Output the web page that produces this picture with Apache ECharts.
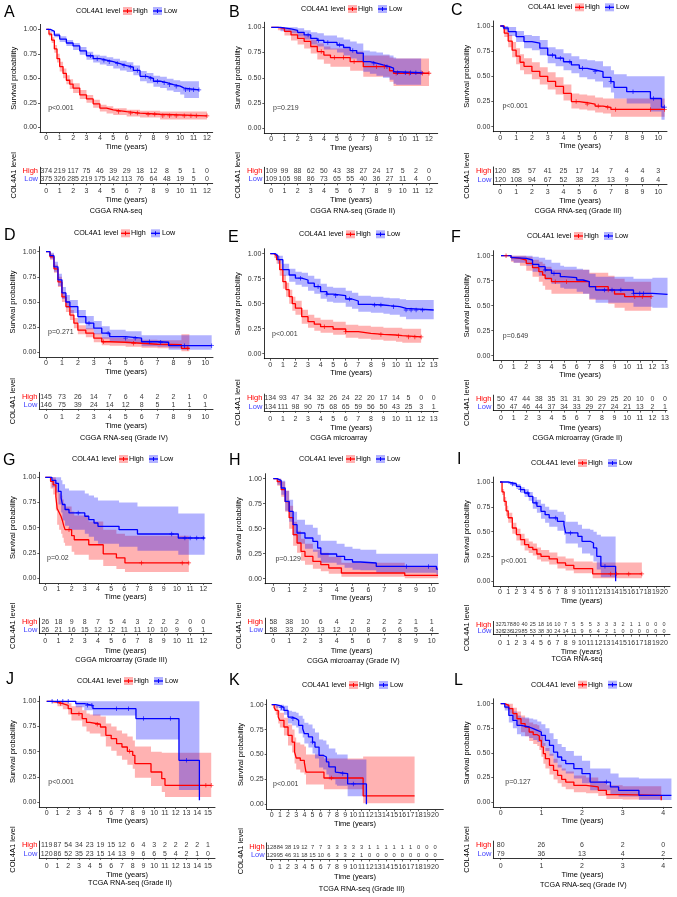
<!DOCTYPE html>
<html><head><meta charset="utf-8">
<script src="https://cdn.jsdelivr.net/npm/echarts@6/dist/echarts.min.js"></script>
<style>html,body{margin:0;padding:0;background:#fff}#c{width:677px;height:897px}</style>
</head><body><div id="c"></div>
<script>
// ---------- DATA ----------
// curves: [time, survival, lowerCI, upperCI] step points
const survTicks = [0, 0.25, 0.5, 0.75, 1];
const ticks4 = [0,1,2,3,4];
const ticks10 = [0,1,2,3,4,5,6,7,8,9,10];
const ticks12 = [0,1,2,3,4,5,6,7,8,9,10,11,12];
const ticks13 = [0,1,2,3,4,5,6,7,8,9,10,11,12,13];
const ticks15 = [0,1,2,3,4,5,6,7,8,9,10,11,12,13,14,15];
const ticks20 = [0,1,2,3,4,5,6,7,8,9,10,11,12,13,14,15,16,17,18,19,20];

const letters = ['A','B','C','D','E','F','G','H','I','J','K','L'];
const captions = ['CGGA RNA-seq','CGGA RNA-seq (Grade II)','CGGA RNA-seq (Grade III)','CGGA RNA-seq (Grade IV)',
  'CGGA microarray','CGGA microarray (Grade II)','CGGA microarray (Grade III)','CGGA microarray (Grade IV)',
  'TCGA RNA-seq','TCGA RNA-seq (Grade II)','TCGA RNA-seq (Grade III)','TCGA RNA-seq (Grade IV)'];
const pvalues = ['p<0.001','p=0.219','p<0.001','p=0.271','p<0.001','p=0.649','p=0.02','p=0.129','p<0.001','p<0.001','p<0.001','p=0.127'];
const groups = ['High','Low'];

const A_high = [[0,1,1,1],[0.2,0.95,0.93,0.97],[0.4,0.89,0.86,0.92],[0.6,0.8,0.76,0.84],[0.8,0.7,0.66,0.75],[1.0,0.62,0.57,0.67],[1.25,0.55,0.5,0.6],[1.5,0.48,0.44,0.53],[1.75,0.44,0.39,0.49],[2.0,0.40,0.35,0.45],[2.5,0.33,0.29,0.38],[3.0,0.29,0.25,0.33],[3.5,0.24,0.2,0.28],[4.0,0.195,0.16,0.23],[4.5,0.177,0.14,0.215],[5.0,0.16,0.125,0.195],[6.0,0.145,0.11,0.18],[7.0,0.133,0.1,0.17],[8.5,0.117,0.08,0.16],[12.0,0.117,0.08,0.16]];
const A_low = [[0,1,1,1],[0.3,0.98,0.97,0.99],[0.6,0.94,0.92,0.96],[1.0,0.9,0.87,0.93],[1.5,0.86,0.83,0.89],[2.0,0.83,0.79,0.86],[2.5,0.78,0.74,0.82],[3.0,0.73,0.69,0.77],[3.5,0.7,0.66,0.74],[4.0,0.685,0.64,0.73],[4.5,0.67,0.625,0.715],[5.0,0.65,0.6,0.7],[5.5,0.63,0.58,0.68],[6.0,0.615,0.565,0.665],[6.5,0.58,0.53,0.63],[7.0,0.52,0.47,0.575],[7.5,0.5,0.45,0.555],[8.0,0.47,0.415,0.525],[8.5,0.455,0.4,0.515],[9.0,0.435,0.375,0.495],[9.5,0.42,0.36,0.48],[10.0,0.4,0.335,0.47],[10.3,0.382,0.30,0.47],[11.4,0.382,0.30,0.47]];
const A_censHigh = [5.4,6.3,6.8,7.6,8.1,8.7,9.2,9.7,10.3,10.8,11.2,12];
const A_censLow = [3.3,3.8,4.3,4.7,5.3,5.8,6.3,6.8,7.4,7.8,8.3,8.8,9.2,9.7,10.4,10.7,11.0,11.4];
const A_riskHigh = [374,219,117,75,46,39,29,18,12,8,5,1,0];
const A_riskLow = [375,326,285,219,175,142,113,76,64,48,19,5,0];

const B_high = [[0,1,1,1],[0.5,0.99,0.97,1],[1.0,0.96,0.92,0.99],[1.5,0.925,0.87,0.97],[2.0,0.89,0.83,0.95],[2.5,0.86,0.79,0.92],[3.0,0.81,0.74,0.88],[3.5,0.76,0.68,0.84],[4.0,0.725,0.64,0.81],[4.5,0.7,0.61,0.79],[6.0,0.66,0.57,0.76],[7.0,0.61,0.51,0.72],[9.0,0.57,0.46,0.7],[9.3,0.545,0.42,0.69],[12.0,0.545,0.42,0.69]];
const B_low = [[0,1,1,1],[0.7,0.985,0.96,1],[1.5,0.97,0.94,1],[2.0,0.95,0.91,0.99],[2.5,0.925,0.88,0.97],[3.0,0.89,0.83,0.95],[3.5,0.87,0.81,0.94],[4.0,0.85,0.78,0.92],[5.0,0.825,0.75,0.9],[5.5,0.8,0.72,0.88],[6.0,0.77,0.69,0.86],[6.5,0.745,0.66,0.84],[7.0,0.66,0.56,0.77],[7.5,0.645,0.54,0.76],[8.0,0.627,0.52,0.75],[8.5,0.61,0.5,0.73],[9.0,0.595,0.48,0.72],[9.3,0.56,0.44,0.7],[9.5,0.55,0.43,0.69],[11.4,0.55,0.43,0.69]];
const B_censHigh = [3.8,4.8,5.5,6.3,8.0,8.6,9.5,10.5,11.5,12];
const B_censLow = [2.8,3.6,4.3,5.2,6.2,7.8,8.8,9.6,10.2,10.6,11.0,11.4];
const B_riskHigh = [109,99,88,62,50,43,38,27,24,17,5,2,0];
const B_riskLow = [109,105,98,86,73,65,55,40,36,27,11,4,0];

const C_high = [[0,1,1,1],[0.25,0.93,0.89,0.97],[0.5,0.85,0.79,0.91],[0.75,0.76,0.69,0.84],[1.0,0.7,0.62,0.78],[1.25,0.64,0.56,0.72],[1.5,0.6,0.52,0.68],[2.0,0.55,0.47,0.64],[2.5,0.5,0.42,0.59],[3.0,0.45,0.37,0.54],[3.5,0.4,0.32,0.49],[4.0,0.33,0.26,0.42],[4.5,0.25,0.18,0.33],[5.0,0.238,0.17,0.32],[5.5,0.225,0.16,0.31],[6.0,0.205,0.14,0.29],[6.5,0.192,0.13,0.28],[7.0,0.172,0.1,0.28],[10.4,0.172,0.1,0.28]];
const C_low = [[0,1,1,1],[0.2,0.98,0.96,1],[0.5,0.945,0.9,0.99],[1.0,0.895,0.84,0.95],[1.5,0.845,0.78,0.91],[2.0,0.83,0.76,0.9],[2.5,0.78,0.71,0.86],[3.0,0.71,0.63,0.79],[3.5,0.68,0.6,0.77],[4.0,0.645,0.56,0.73],[4.5,0.613,0.53,0.7],[5.0,0.58,0.49,0.67],[5.5,0.563,0.47,0.66],[6.0,0.546,0.45,0.65],[6.5,0.49,0.39,0.6],[7.0,0.447,0.34,0.56],[7.2,0.39,0.28,0.52],[8.0,0.348,0.23,0.5],[9.5,0.28,0.15,0.5],[10.2,0.195,0.07,0.5],[10.4,0.195,0.07,0.5]];
const C_censHigh = [4.8,5.5,6.2,6.8,7.3,9.5,10.4];
const C_censLow = [3.3,3.8,4.4,5.2,6.0,7.0,8.4,9.7,10.4];
const C_riskHigh = [120,85,57,41,25,17,14,7,4,4,3];
const C_riskLow = [120,108,94,67,52,38,23,13,9,6,4];

const D_high = [[0,1,1,1],[0.25,0.95,0.92,0.98],[0.5,0.83,0.79,0.87],[0.75,0.7,0.65,0.75],[1.0,0.55,0.5,0.6],[1.25,0.455,0.4,0.51],[1.5,0.37,0.32,0.42],[1.75,0.29,0.24,0.34],[2.0,0.22,0.18,0.27],[2.5,0.19,0.15,0.24],[3.0,0.14,0.1,0.19],[3.5,0.105,0.07,0.15],[4.0,0.1,0.065,0.145],[5.0,0.09,0.055,0.135],[6.0,0.08,0.045,0.125],[7.0,0.075,0.04,0.12],[8.5,0.04,0.01,0.18],[9.0,0.04,0.01,0.18]];
const D_low = [[0,1,1,1],[0.25,0.96,0.93,0.99],[0.5,0.85,0.8,0.9],[0.75,0.72,0.66,0.78],[1.0,0.59,0.53,0.65],[1.25,0.5,0.44,0.57],[1.5,0.455,0.39,0.52],[2.0,0.355,0.29,0.42],[2.5,0.29,0.23,0.36],[3.0,0.24,0.18,0.31],[3.5,0.19,0.135,0.26],[4.0,0.155,0.105,0.225],[5.0,0.14,0.09,0.21],[6.0,0.105,0.06,0.17],[7.0,0.1,0.055,0.17],[7.7,0.066,0.025,0.17],[10.4,0.066,0.025,0.17]];
const D_censHigh = [3.6,5.5,8.9];
const D_censLow = [2.7,3.9,5.0,5.6,6.5,7.2,8.7,10.4];
const D_riskHigh = [145,73,26,14,7,6,4,2,2,1,0];
const D_riskLow = [146,75,39,24,14,12,8,5,1,1,1];

const E_high = [[0,1,1,1],[0.3,0.98,0.96,1],[0.5,0.94,0.9,0.98],[0.75,0.84,0.78,0.9],[1.0,0.72,0.65,0.79],[1.25,0.64,0.57,0.71],[1.5,0.57,0.5,0.64],[1.75,0.5,0.43,0.57],[2.0,0.455,0.39,0.53],[2.5,0.37,0.3,0.44],[3.0,0.32,0.26,0.39],[3.5,0.295,0.23,0.36],[4.0,0.27,0.21,0.34],[5.0,0.247,0.19,0.32],[6.0,0.22,0.16,0.29],[7.0,0.203,0.15,0.28],[8.0,0.193,0.14,0.27],[9.0,0.187,0.13,0.26],[10.0,0.18,0.12,0.26],[10.5,0.168,0.11,0.25],[12.0,0.168,0.11,0.25]];
const E_low = [[0,1,1,1],[0.4,0.98,0.96,1],[0.6,0.94,0.9,0.98],[1.0,0.84,0.78,0.9],[1.5,0.787,0.72,0.85],[2.0,0.755,0.69,0.82],[2.5,0.737,0.67,0.81],[3.0,0.705,0.63,0.78],[3.5,0.67,0.6,0.75],[4.0,0.62,0.55,0.7],[4.5,0.595,0.52,0.67],[5.0,0.58,0.51,0.66],[6.0,0.547,0.47,0.63],[6.5,0.527,0.45,0.61],[7.0,0.493,0.42,0.58],[8.0,0.487,0.41,0.57],[9.0,0.48,0.4,0.56],[9.5,0.47,0.39,0.555],[10.3,0.453,0.37,0.545],[10.8,0.437,0.345,0.537],[13.0,0.437,0.345,0.537]];
const E_censHigh = [4.3,6.0,8.8,10.2,11.0,11.5,12];
const E_censLow = [2.4,3.8,4.5,5.2,6.3,8.3,8.8,9.8,10.8,11.2,11.6,12.1];
const E_riskHigh = [134,93,47,34,32,26,24,22,20,17,14,5,0,0];
const E_riskLow = [134,111,98,90,75,68,65,59,56,50,43,25,3,1];

const F_high = [[0,1,1,1],[0.8,0.98,0.94,1],[1.0,0.973,0.93,1],[1.5,0.957,0.9,1],[2.0,0.923,0.85,0.99],[2.5,0.88,0.79,0.96],[3.0,0.84,0.74,0.94],[3.3,0.807,0.7,0.92],[3.5,0.773,0.66,0.89],[4.0,0.74,0.62,0.86],[7.0,0.69,0.56,0.83],[8.5,0.657,0.52,0.8],[9.0,0.617,0.48,0.77],[9.8,0.59,0.45,0.74],[11.9,0.59,0.45,0.74]];
const F_low = [[0,1,1,1],[0.8,0.98,0.95,1],[1.0,0.973,0.93,1],[2.0,0.957,0.9,1],[2.5,0.913,0.84,0.99],[3.0,0.89,0.8,0.98],[3.5,0.857,0.76,0.96],[4.0,0.823,0.72,0.93],[4.7,0.79,0.68,0.9],[5.0,0.78,0.67,0.89],[6.0,0.757,0.64,0.87],[6.5,0.74,0.62,0.86],[7.0,0.69,0.57,0.82],[7.5,0.657,0.53,0.79],[10.5,0.623,0.49,0.77],[12.0,0.613,0.48,0.78],[13.2,0.613,0.48,0.78]];
const F_censHigh = [0.4,4.3,5.2,8.5,10.6,11.2,11.9];
const F_censLow = [3.5,4.2,8.2,8.8,9.5,10.5,11.0,11.3];
const F_riskHigh = [50,47,44,38,35,31,31,30,29,25,20,10,0,0];
const F_riskLow = [50,47,46,44,37,34,33,29,27,24,21,13,2,1];

const G_high = [[0,1,1,1],[0.4,0.96,0.89,1],[0.6,0.925,0.83,1],[0.8,0.81,0.67,0.95],[0.9,0.69,0.53,0.87],[1.05,0.65,0.48,0.84],[1.2,0.61,0.44,0.82],[1.3,0.57,0.4,0.78],[1.4,0.52,0.35,0.74],[1.5,0.48,0.32,0.71],[2.0,0.42,0.26,0.66],[2.2,0.38,0.23,0.62],[3.3,0.33,0.18,0.56],[4.4,0.24,0.12,0.48],[5.4,0.2,0.09,0.44],[6.05,0.15,0.06,0.42],[10.9,0.15,0.06,0.42]];
const G_low = [[0,1,1,1],[0.5,0.97,0.9,1],[0.8,0.94,0.85,1],[1.0,0.86,0.73,1],[1.2,0.795,0.65,0.97],[1.3,0.73,0.57,0.93],[1.5,0.68,0.52,0.89],[1.8,0.646,0.48,0.87],[3.0,0.613,0.44,0.84],[3.3,0.58,0.41,0.82],[3.7,0.546,0.37,0.8],[4.0,0.513,0.34,0.77],[5.6,0.48,0.31,0.75],[7.0,0.437,0.27,0.71],[10.1,0.397,0.23,0.64],[12.1,0.397,0.23,0.64]];
const G_censHigh = [1.8,7.3,10.4,10.9];
const G_censLow = [2.5,9.6,10.6,11.0,11.5,12.0];
const G_riskHigh = [26,18,9,8,7,5,4,3,2,2,2,0,0];
const G_riskLow = [26,21,16,15,12,12,11,11,10,10,9,6,1];

const H_high = [[0,1,1,1],[0.25,0.97,0.93,1],[0.5,0.89,0.82,0.97],[0.75,0.77,0.67,0.88],[1.0,0.61,0.5,0.73],[1.25,0.44,0.33,0.57],[1.5,0.357,0.26,0.48],[1.75,0.273,0.18,0.4],[2.0,0.223,0.14,0.35],[2.5,0.173,0.1,0.29],[3.0,0.14,0.075,0.26],[3.5,0.107,0.05,0.22],[4.3,0.057,0.02,0.16],[8.3,0.033,0.005,0.12],[10.4,0.033,0.005,0.12]];
const H_low = [[0,1,1,1],[0.25,0.98,0.94,1],[0.5,0.907,0.84,0.98],[0.75,0.773,0.68,0.88],[1.0,0.673,0.57,0.79],[1.25,0.54,0.43,0.67],[1.5,0.457,0.35,0.59],[2.0,0.407,0.3,0.54],[2.5,0.373,0.27,0.51],[2.8,0.307,0.21,0.44],[3.0,0.247,0.16,0.38],[4.0,0.223,0.14,0.35],[4.5,0.19,0.11,0.32],[5.0,0.167,0.09,0.3],[5.5,0.157,0.085,0.29],[6.5,0.123,0.06,0.25],[10.3,0.095,0.04,0.25],[10.4,0.095,0.04,0.25]];
const H_censHigh = [];
const H_censLow = [8.4,9.8];
const H_riskHigh = [58,38,10,6,4,2,2,2,2,1,1];
const H_riskLow = [58,33,20,13,12,10,8,6,6,5,4];

const I_high = [[0,1,1,1],[0.25,0.9,0.87,0.93],[0.5,0.805,0.76,0.85],[0.75,0.71,0.66,0.76],[1.0,0.64,0.59,0.69],[1.5,0.537,0.48,0.59],[2.0,0.47,0.41,0.53],[2.5,0.42,0.36,0.48],[3.0,0.37,0.31,0.43],[3.5,0.342,0.285,0.4],[4.0,0.32,0.26,0.38],[4.5,0.275,0.22,0.34],[5.0,0.252,0.2,0.315],[6.0,0.225,0.17,0.29],[7.0,0.185,0.13,0.25],[8.0,0.161,0.11,0.23],[9.0,0.128,0.08,0.2],[11.3,0.074,0.03,0.19],[17.3,0.074,0.03,0.19]];
const I_low = [[0,1,1,1],[1.0,0.99,0.98,1],[1.5,0.98,0.96,1],[2.0,0.956,0.93,0.98],[2.5,0.923,0.89,0.95],[3.0,0.889,0.85,0.93],[3.5,0.856,0.81,0.9],[4.0,0.79,0.73,0.85],[4.5,0.755,0.69,0.82],[5.0,0.705,0.63,0.78],[5.5,0.671,0.59,0.75],[6.0,0.638,0.55,0.72],[7.0,0.604,0.51,0.7],[7.8,0.57,0.47,0.67],[8.0,0.487,0.38,0.6],[9.5,0.453,0.34,0.57],[10.0,0.403,0.28,0.53],[11.0,0.386,0.26,0.52],[11.4,0.336,0.2,0.5],[11.8,0.252,0.12,0.47],[12.3,0.151,0.04,0.45],[14.1,0,0,0.45]];
const I_censHigh = [13.5,14.2,15.7,17.3];
const I_censLow = [1.5,2.5,3.4,4.4,6.8,8.6,12.8];
const I_riskHigh = [327,178,80,40,25,18,16,10,7,5,5,5,3,3,3,2,1,1,0,0,0];
const I_riskLow = [326,236,129,85,53,38,30,24,14,11,9,6,4,2,1,0,0,0,0,0,0];

const J_high = [[0,1,1,1],[0.5,0.993,0.98,1],[1.0,0.977,0.95,1],[1.5,0.96,0.92,1],[2.0,0.927,0.87,0.98],[2.3,0.877,0.81,0.95],[3.3,0.828,0.75,0.91],[3.7,0.79,0.7,0.88],[4.0,0.772,0.68,0.87],[5.0,0.745,0.65,0.85],[5.5,0.662,0.55,0.78],[6.0,0.629,0.51,0.75],[6.5,0.579,0.46,0.71],[7.0,0.546,0.42,0.68],[7.5,0.503,0.37,0.65],[8.0,0.464,0.33,0.61],[8.2,0.381,0.24,0.55],[9.7,0.298,0.16,0.5],[10.7,0.232,0.1,0.49],[11.0,0.166,0.05,0.49],[15.3,0.166,0.05,0.49]];
const J_low = [[0,1,1,1],[2.7,0.977,0.94,1],[3.5,0.96,0.91,1],[4.3,0.927,0.86,1],[8.3,0.828,0.62,1],[12.3,0.414,0.12,1],[14.2,0.017,0,1]];
const J_censHigh = [1.3,3.0,4.7,7.7,14.8,15.3];
const J_censLow = [0.5,1.0,1.5,2.0,3.8,4.2,6.5,7.6,9.0,11.5,13.0];
const J_riskHigh = [119,87,54,34,23,19,15,12,6,4,3,2,2,2,2,1];
const J_riskLow = [120,86,52,35,23,15,14,13,9,6,6,5,4,2,1,0];

const K_high = [[0,1,1,1],[0.3,0.97,0.94,1],[0.5,0.943,0.9,0.99],[0.8,0.876,0.81,0.94],[1.0,0.843,0.77,0.92],[1.5,0.776,0.69,0.87],[2.0,0.692,0.59,0.8],[2.5,0.625,0.52,0.75],[2.8,0.525,0.41,0.67],[3.0,0.465,0.35,0.62],[3.5,0.441,0.32,0.6],[4.0,0.418,0.3,0.58],[4.2,0.324,0.2,0.5],[6.4,0.264,0.15,0.46],[11.2,0.084,0.01,0.48],[17.5,0.084,0.01,0.48]];
const K_low = [[0,1,1,1],[0.5,0.99,0.97,1],[1.0,0.973,0.94,1],[1.5,0.943,0.9,0.99],[2.0,0.876,0.81,0.94],[2.5,0.86,0.79,0.93],[3.0,0.843,0.77,0.92],[3.3,0.793,0.71,0.89],[3.8,0.759,0.67,0.86],[4.0,0.709,0.61,0.82],[4.5,0.676,0.57,0.8],[5.0,0.625,0.51,0.76],[5.3,0.575,0.46,0.72],[5.8,0.492,0.37,0.65],[6.3,0.475,0.35,0.64],[6.7,0.425,0.3,0.6],[7.0,0.375,0.25,0.56],[7.8,0.324,0.2,0.52],[8.0,0.308,0.185,0.5],[9.3,0.205,0.08,0.45],[11.6,0,0,0.45]];
const K_censHigh = [7.3];
const K_censLow = [1.2,2.6,5.0,8.7,10.0];
const K_riskHigh = [128,84,38,19,12,7,7,3,3,3,3,3,1,1,1,1,1,1,0,0,0];
const K_riskLow = [129,95,46,31,18,15,10,6,3,3,2,1,0,0,0,0,0,0,0,0,0];

const L_high = [[0,1,1,1],[0.1,0.983,0.95,1],[0.2,0.95,0.9,1],[0.3,0.9,0.84,0.96],[0.4,0.847,0.77,0.92],[0.5,0.797,0.71,0.88],[0.6,0.763,0.67,0.85],[0.7,0.712,0.62,0.81],[0.8,0.685,0.59,0.79],[0.9,0.671,0.57,0.78],[0.95,0.627,0.53,0.74],[1.0,0.56,0.46,0.67],[1.05,0.492,0.39,0.6],[1.1,0.441,0.34,0.55],[1.2,0.373,0.28,0.49],[1.3,0.322,0.23,0.44],[1.4,0.271,0.19,0.38],[1.5,0.231,0.155,0.34],[1.6,0.203,0.13,0.31],[1.8,0.169,0.1,0.27],[2.1,0.153,0.09,0.25],[2.4,0.119,0.06,0.21],[2.6,0.075,0.03,0.17],[3.0,0.068,0.025,0.16],[3.95,0.017,0,0.15]];
const L_low = [[0,1,1,1],[0.1,0.966,0.93,1],[0.2,0.881,0.81,0.96],[0.3,0.83,0.75,0.92],[0.4,0.78,0.69,0.88],[0.5,0.763,0.67,0.86],[0.7,0.746,0.65,0.85],[0.8,0.729,0.63,0.84],[0.9,0.712,0.61,0.82],[1.0,0.678,0.57,0.79],[1.1,0.627,0.52,0.75],[1.2,0.576,0.47,0.7],[1.3,0.508,0.4,0.64],[1.4,0.458,0.35,0.59],[1.5,0.424,0.32,0.56],[1.6,0.39,0.29,0.52],[1.8,0.339,0.24,0.47],[2.0,0.288,0.19,0.42],[2.2,0.203,0.12,0.34],[2.7,0.153,0.08,0.29],[2.9,0.119,0.055,0.25],[3.4,0.068,0.02,0.24],[4.2,0.068,0.02,0.24]];
const L_censHigh = [];
const L_censLow = [2.6];
const L_riskHigh = [80,26,6,2,0];
const L_riskLow = [79,36,13,4,2];

// ---------- LAYOUT (pixel positions, styles) ----------
const FONT = '"Liberation Sans", Arial, Helvetica, sans-serif';
const RED = '#FF0000', BLUE = '#0000FF';
const RED_FILL = 'rgba(255,0,0,0.3)', BLUE_FILL = 'rgba(0,0,255,0.3)';
const LOW_LABEL = '#3f3fff';
const PLUS = 'path://M-0.18,-1L0.18,-1L0.18,-0.18L1,-0.18L1,0.18L0.18,0.18L0.18,1L-0.18,1L-0.18,0.18L-1,0.18L-1,-0.18L-0.18,-0.18Z';

const panels = [
 {high:A_high, low:A_low, ch:A_censHigh, cl:A_censLow, rh:A_riskHigh, rl:A_riskLow, ticks:ticks12, L:40, R:212.7, t0:46.3, tN:207, y1:29.3, y0:127.3, rowH:171.3, rowL:179.3, legX:76, legY:11, letX:4, letY:13, capX:116, capY:211, tf:7},
 {high:B_high, low:B_low, ch:B_censHigh, cl:B_censLow, rh:B_riskHigh, rl:B_riskLow, ticks:ticks12, L:264.3, R:437.7, t0:271.3, tN:429, y1:27.3, y0:128.3, rowH:171.3, rowL:179.3, legX:301, legY:9, letX:229, letY:12.5, capX:352.7, capY:211, tf:7},
 {high:C_high, low:C_low, ch:C_censHigh, cl:C_censLow, rh:C_riskHigh, rl:C_riskLow, ticks:ticks10, L:493.3, R:667, t0:500.3, tN:658.3, y1:26, y0:126.7, rowH:171.3, rowL:180, legX:528, legY:7.3, letX:451, letY:11, capX:578, capY:211, tf:7},
 {high:D_high, low:D_low, ch:D_censHigh, cl:D_censLow, rh:D_riskHigh, rl:D_riskLow, ticks:ticks10, L:39.3, R:213, t0:46, tN:205.3, y1:251.7, y0:352.3, rowH:397.3, rowL:405, legX:74, legY:233.3, letX:4, letY:236, capX:124, capY:438.3, tf:7},
 {high:E_high, low:E_low, ch:E_censHigh, cl:E_censLow, rh:E_riskHigh, rl:E_riskLow, ticks:ticks13, L:264.3, R:438, t0:270.3, tN:433.7, y1:253.7, y0:353.7, rowH:398.3, rowL:406.7, legX:299, legY:234.3, letX:228, letY:237.5, capX:338.7, capY:438.3, tf:7},
 {high:F_high, low:F_low, ch:F_censHigh, cl:F_censLow, rh:F_riskHigh, rl:F_riskLow, ticks:ticks13, L:493.3, R:667, t0:501, tN:665, y1:255.7, y0:355.7, rowH:399, rowL:406.7, legX:527, legY:236, letX:451, letY:237.5, capX:577.5, capY:438.3, tf:7},
 {high:G_high, low:G_low, ch:G_censHigh, cl:G_censLow, rh:G_riskHigh, rl:G_riskLow, ticks:ticks12, L:39.3, R:211.7, t0:45.3, tN:203.3, y1:477.3, y0:578, rowH:622, rowL:629.7, legX:72, legY:459, letX:3, letY:460.5, capX:121.3, capY:660, tf:7},
 {high:H_high, low:H_low, ch:H_censHigh, cl:H_censLow, rh:H_riskHigh, rl:H_riskLow, ticks:ticks10, L:265, R:438.3, t0:273.3, tN:431.7, y1:478.7, y0:578.7, rowH:622, rowL:629.7, legX:299, legY:459, letX:229, letY:460.5, capX:353.3, capY:661, tf:7},
 {high:I_high, low:I_low, ch:I_censHigh, cl:I_censLow, rh:I_riskHigh, rl:I_riskLow, ticks:ticks20, L:493.3, R:670, t0:500, tN:664, y1:482, y0:581.3, rowH:624.7, rowL:631.3, legX:531, legY:463, letX:457, letY:460, capX:577, capY:659, tf:5.5},
 {high:J_high, low:J_low, ch:J_censHigh, cl:J_censLow, rh:J_riskHigh, rl:J_riskLow, ticks:ticks15, L:39.3, R:215, t0:46.7, tN:208, y1:701.3, y0:802, rowH:845.3, rowL:853.7, legX:77, legY:681, letX:6, letY:679.5, capX:130, capY:883, tf:7},
 {high:K_high, low:K_low, ch:K_censHigh, cl:K_censLow, rh:K_riskHigh, rl:K_riskLow, ticks:ticks20, L:266.7, R:443.3, t0:271.7, tN:435, y1:704.7, y0:804.3, rowH:847, rowL:855.3, legX:302, legY:685, letX:229, letY:680.5, capX:361.7, capY:889.3, tf:5.8},
 {high:L_high, low:L_low, ch:L_censHigh, cl:L_censLow, rh:L_riskHigh, rl:L_riskLow, ticks:ticks4, L:493.3, R:671.7, t0:500.7, tN:663.3, y1:703.7, y0:802, rowH:845.3, rowL:853.7, legX:531, legY:684.7, letX:454, letY:680.5, capX:583.3, capY:885.3, tf:7}
];

const option = {
  animation: false, backgroundColor: '#fff',
  textStyle: {fontFamily: FONT},
  grid: [], xAxis: [], yAxis: [], series: [], graphic: []
};

// survival value of a step curve at time t (for placing censor marks on the curve)
function survAt(curve, t) {
  let s = curve[0][1];
  for (const r of curve) { if (r[0] <= t + 1e-9) s = r[1]; else break; }
  return s;
}

function bandSeries(ai, curve, fill) {
  return {
    type: 'custom', xAxisIndex: ai, yAxisIndex: ai, silent: true, z: 1,
    data: curve.map(r => [r[0], r[2], r[3]]),
    renderItem: function (params, api) {
      if (params.dataIndex !== 0) return null;
      const n = curve.length, up = [], dn = [];
      for (let j = 0; j < n; j++) {
        const t = api.value(0, j), lo = api.value(1, j), hi = api.value(2, j);
        const tn = j < n - 1 ? api.value(0, j + 1) : t;
        up.push(api.coord([t, hi]), api.coord([tn, hi]));
        dn.push(api.coord([t, lo]), api.coord([tn, lo]));
      }
      return {type: 'polygon', shape: {points: up.concat(dn.reverse())}, style: {fill: fill, stroke: null}};
    }
  };
}

function lineSeries(ai, curve, color) {
  return {
    type: 'line', xAxisIndex: ai, yAxisIndex: ai, step: 'end', silent: true, z: 3,
    showSymbol: false, symbol: 'none',
    data: curve.map(r => [r[0], r[1]]),
    lineStyle: {color: color, width: 1.3}
  };
}

function censorSeries(ai, curve, times, color) {
  return {
    type: 'scatter', xAxisIndex: ai, yAxisIndex: ai, silent: true, z: 4,
    symbol: PLUS, symbolSize: 4.5, itemStyle: {color: color},
    data: times.map(t => [t, survAt(curve, t)])
  };
}

panels.forEach((p, i) => {
  const N = p.ticks[p.ticks.length - 1];
  const pxPerYr = (p.tN - p.t0) / N;
  const xMin = (p.L - p.t0) / pxPerYr;
  const xMax = N + (p.R - p.tN) / pxPerYr;
  const h = p.y0 - p.y1;

  // ---- survival plot ----
  const gi = option.grid.length;
  option.grid.push({left: p.L, top: p.y1 - 0.05 * h, width: p.R - p.L, height: 1.1 * h, outerBoundsMode: 'none', containLabel: false});
  option.xAxis.push({
    gridIndex: gi, type: 'value', min: xMin, max: xMax, splitLine: {show: false},
    axisLine: {show: true, onZero: false, lineStyle: {color: '#000', width: 0.8}},
    axisTick: {show: true, length: 2, customValues: p.ticks, lineStyle: {color: '#333', width: 0.8}},
    axisLabel: {show: true, customValues: p.ticks, margin: 2.5, fontSize: 7, color: '#333', fontFamily: FONT, formatter: v => String(v)},
    name: 'Time (years)', nameLocation: 'middle', nameGap: 10,
    nameTextStyle: {fontSize: 7.5, color: '#000', fontFamily: FONT}
  });
  option.yAxis.push({
    gridIndex: gi, type: 'value', min: -0.05, max: 1.05, splitLine: {show: false},
    axisLine: {show: true, onZero: false, lineStyle: {color: '#000', width: 0.8}},
    axisTick: {show: true, length: 2, customValues: survTicks, lineStyle: {color: '#333', width: 0.8}},
    axisLabel: {show: true, customValues: survTicks, margin: 3, fontSize: 7, color: '#333', fontFamily: FONT, formatter: v => v.toFixed(2)},
    name: 'Survival probability', nameLocation: 'middle', nameGap: 22, nameRotate: 90,
    nameTextStyle: {fontSize: 7.5, color: '#000', fontFamily: FONT}
  });
  option.series.push(bandSeries(gi, p.high, RED_FILL));
  option.series.push(bandSeries(gi, p.low, BLUE_FILL));
  option.series.push(lineSeries(gi, p.high, RED));
  option.series.push(lineSeries(gi, p.low, BLUE));
  option.series.push(censorSeries(gi, p.high, p.ch, RED));
  option.series.push(censorSeries(gi, p.low, p.cl, BLUE));
  option.series.push({
    type: 'scatter', xAxisIndex: gi, yAxisIndex: gi, silent: true, z: 4,
    symbolSize: 1, itemStyle: {color: 'rgba(0,0,0,0)'},
    data: [[0.1, 0.2]],
    label: {show: true, position: 'right', distance: 0, formatter: () => pvalues[i], fontSize: 7, color: '#000', fontFamily: FONT}
  });

  // ---- risk table ----
  const ti = option.grid.length;
  const rowGap = p.rowL - p.rowH;
  option.grid.push({left: p.L, top: p.rowH - rowGap / 2, width: p.R - p.L, height: rowGap * 2, outerBoundsMode: 'none', containLabel: false});
  option.xAxis.push({
    gridIndex: ti, type: 'value', min: xMin, max: xMax, splitLine: {show: false},
    axisLine: {show: true, onZero: false, lineStyle: {color: '#000', width: 0.8}},
    axisTick: {show: true, length: 2, customValues: p.ticks, lineStyle: {color: '#333', width: 0.8}},
    axisLabel: {show: true, customValues: p.ticks, margin: 4.5, fontSize: 7, color: '#333', fontFamily: FONT, formatter: v => String(v)},
    name: 'Time (years)', nameLocation: 'middle', nameGap: 13,
    nameTextStyle: {fontSize: 7.5, color: '#000', fontFamily: FONT}
  });
  option.yAxis.push({
    gridIndex: ti, type: 'category', data: ['Low', 'High'], splitLine: {show: false},
    axisLine: {show: true, onZero: false, lineStyle: {color: '#000', width: 0.8}},
    axisTick: {show: false},
    axisLabel: {show: true, interval: 0, hideOverlap: false, margin: 2, fontSize: 7.5, fontFamily: FONT,
      color: (v) => v === 'High' ? RED : LOW_LABEL},
    name: 'COL4A1 level', nameLocation: 'middle', nameGap: 22, nameRotate: 90,
    nameTextStyle: {fontSize: 7.5, color: '#000', fontFamily: FONT}
  });
  [[p.rh, 1], [p.rl, 0]].forEach(([arr, row]) => {
    option.series.push({
      type: 'scatter', xAxisIndex: ti, yAxisIndex: ti, silent: true,
      symbolSize: 1, itemStyle: {color: 'rgba(0,0,0,0)'},
      data: arr.map((n, k) => [p.ticks[k], row, n]),
      label: {show: true, position: 'inside', formatter: d => String(d.value[2]), fontSize: p.tf, color: '#000', fontFamily: FONT}
    });
  });

  // ---- letter, legend, caption ----
  option.graphic.push({type: 'text', x: p.letX, y: p.letY, silent: true,
    style: {text: letters[i], font: '16px ' + FONT, fill: '#000', align: 'left', verticalAlign: 'middle'}});
  option.graphic.push({type: 'text', x: p.legX, y: p.legY, silent: true,
    style: {text: 'COL4A1 level', font: '7.2px ' + FONT, fill: '#000', align: 'left', verticalAlign: 'middle'}});
  [[RED, RED_FILL, groups[0], 47, 57], [BLUE, BLUE_FILL, groups[1], 77, 88]].forEach(([c, f, txt, sx, tx]) => {
    const x0 = p.legX + sx, y0 = p.legY;
    option.graphic.push({type: 'rect', silent: true, shape: {x: x0, y: y0 - 4, width: 9, height: 8}, style: {fill: f}});
    option.graphic.push({type: 'line', silent: true, shape: {x1: x0, y1: y0, x2: x0 + 9, y2: y0}, style: {stroke: c, lineWidth: 1.3}});
    option.graphic.push({type: 'line', silent: true, shape: {x1: x0 + 4.5, y1: y0 - 2, x2: x0 + 4.5, y2: y0 + 2}, style: {stroke: c, lineWidth: 1}});
    option.graphic.push({type: 'text', x: p.legX + tx, y: y0, silent: true,
      style: {text: txt, font: '7.2px ' + FONT, fill: '#000', align: 'left', verticalAlign: 'middle'}});
  });
  option.graphic.push({type: 'text', x: p.capX, y: p.capY, silent: true,
    style: {text: captions[i], font: '7.2px ' + FONT, fill: '#000', align: 'center', verticalAlign: 'middle'}});
});

const chart = echarts.init(document.getElementById('c'), null, {renderer: 'canvas', width: 677, height: 897});
chart.setOption(option);
</script>
</body></html>
